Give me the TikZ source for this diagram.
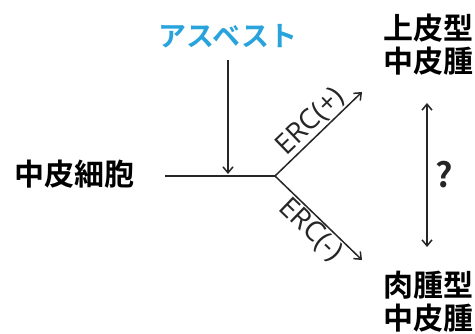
\documentclass[tikz,border=0pt]{standalone}
\usepackage{fontspec}
\newfontfamily\jpb{Noto Sans CJK JP Bold}
\newfontfamily\latn{Open Sans}
\usetikzlibrary{arrows.meta}
\definecolor{asbcol}{HTML}{29A3DC}
\tikzset{
  jp/.style={font=\jpb\fontsize{30}{34}\selectfont, inner sep=0pt, align=center},
  jpr/.style={font=\jpb\fontsize{30}{33}\selectfont, inner sep=0pt, align=center},
  lbl/.style={font=\latn\fontsize{28}{30}\selectfont, inner sep=1pt},
  conn/.style={line width=1.5pt, black!85},
  arr/.style={conn, -{Straight Barb[length=6pt,width=10pt,line width=1.5pt]}},
  darr/.style={conn, {Straight Barb[length=6pt,width=10pt,line width=1.5pt]}-{Straight Barb[length=6pt,width=10pt,line width=1.5pt]}}
}
\begin{document}
\begin{tikzpicture}[x=1pt,y=-1pt]
\useasboundingbox (0,0) rectangle (475,334);
\node[jp] (cell) at (75,174) {中皮細胞};
\node[jp, font=\jpb\fontsize{28}{30}\selectfont, text=asbcol] (asb) at (228,36) {アスベスト};
\node[jpr] (epi) at (428,45) {上皮型\\中皮腫};
\node[jpr] (sarc) at (428,302) {肉腫型\\中皮腫};
\coordinate (hs) at (165,176);
\coordinate (j) at (275,176);
\coordinate (ae) at (228,174);
\coordinate (up) at (362,92);
\coordinate (dn) at (362,260);
\coordinate (qt) at (427,103);
\coordinate (qb) at (427,247);
\draw[conn] (hs) -- (j);
\draw[arr] (asb.south) ++(0,12) coordinate (as) -- (ae);
\draw[arr] (j) -- node[lbl, sloped, above, pos=0.52] (erp) {ERC(+)} (up);
\draw[arr] (j) -- node[lbl, sloped, below, pos=0.52] (erm) {ERC(-)} (dn);
\draw[darr] (qt) -- node[font=\jpb\fontsize{34}{36}\selectfont, right=4pt] (q) {?} (qb);
\end{tikzpicture}
\end{document}
